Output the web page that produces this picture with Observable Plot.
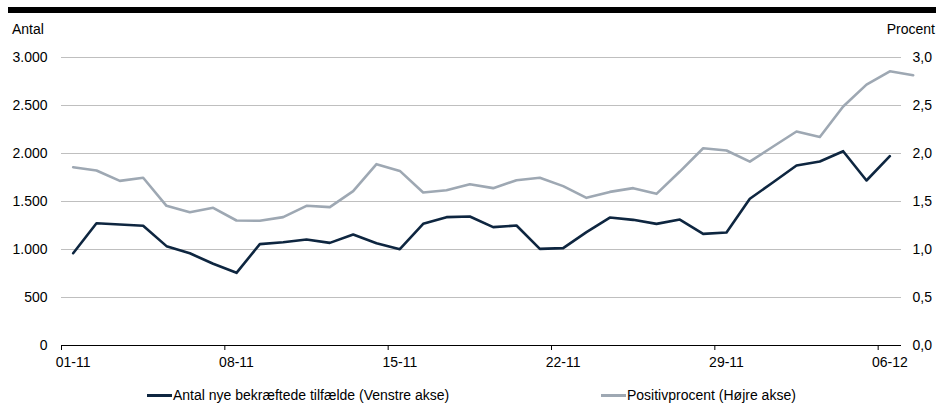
<!DOCTYPE html>
<html><head><meta charset="utf-8">
<script src="https://cdn.jsdelivr.net/npm/d3@7"></script>
<script src="https://cdn.jsdelivr.net/npm/@observablehq/plot@0.6"></script>
<style>
body{margin:0;background:#fff;font-family:"Liberation Sans",Arial,sans-serif;}
#wrap{position:relative;width:936px;height:403px;overflow:hidden;background:#fff}
#bar{position:absolute;left:8px;top:7px;width:928px;height:6px;background:#000}
#chart{position:absolute;left:0;top:20px}
.atitle{position:absolute;top:21px;font-size:14px;line-height:16px;color:#000}
.leg{position:absolute;top:387px;font-size:14px;line-height:16px;color:#000;display:flex;align-items:center;white-space:nowrap}
.leg span.sw{display:inline-block;width:25px;height:3px;margin-right:1px}
</style>
</head><body>
<div id="wrap">
  <div id="bar"></div>
  <div class="atitle" style="left:12px">Antal</div>
  <div class="atitle" style="right:1px">Procent</div>
  <div id="chart"></div>
  <div class="leg" style="left:147px"><span class="sw" style="background:#0e2640"></span>Antal nye bekræftede tilfælde (Venstre akse)</div>
  <div class="leg" style="left:601px"><span class="sw" style="background:#9ea8b3"></span>Positivprocent (Højre akse)</div>
</div>
<script>
// Categories (days)
const days = ["01-11","02-11","03-11","04-11","05-11","06-11","07-11","08-11","09-11","10-11",
  "11-11","12-11","13-11","14-11","15-11","16-11","17-11","18-11","19-11","20-11",
  "21-11","22-11","23-11","24-11","25-11","26-11","27-11","28-11","29-11","30-11",
  "01-12","02-12","03-12","04-12","05-12","06-12","07-12"];
const tickLabels = ["01-11","08-11","15-11","22-11","29-11","06-12"];
// Left axis: new confirmed cases
const cases = [961,1274,1260,1247,1035,961,851,757,1056,1076,
  1104,1069,1156,1066,1003,1267,1337,1344,1233,1250,
  1007,1014,1181,1333,1309,1267,1312,1163,1177,1528,
  1701,1875,1917,2024,1719,1972];
// Right axis: positive percent
const positive = [1.857,1.823,1.715,1.747,1.455,1.389,1.434,1.302,1.299,1.337,
  1.455,1.441,1.608,1.889,1.819,1.594,1.618,1.680,1.639,1.722,
  1.747,1.660,1.538,1.600,1.639,1.580,1.812,2.055,2.031,1.915,
  2.073,2.229,2.172,2.490,2.717,2.856,2.816];
const leftTicks = [0,500,1000,1500,2000,2500,3000];
const rightTicks = [0,0.5,1.0,1.5,2.0,2.5,3.0];

const locale = d3.formatLocale({decimal:",", thousands:".", grouping:[3], currency:["","kr"]});
const fmtL = locale.format(",.0f");
const fmtR = locale.format(".1f");
const ratio = leftTicks[leftTicks.length-1] / rightTicks[rightTicks.length-1];

const caseData = cases.map((v,i)=>({i, v}));
const posData = positive.map((v,i)=>({i, v: v*ratio}));
const labelIdx = tickLabels.map(t => days.indexOf(t));
const boundaries = labelIdx.map(i => i - 0.5);

const chart = Plot.plot({
  width: 936, height: 360,
  marginTop: 37, marginBottom: 35, marginLeft: 61, marginRight: 35,
  style: {fontFamily: '"Liberation Sans", Arial, sans-serif', fontSize: "14px", color: "#000", background: "transparent"},
  x: {domain: [-0.5, cases.length - 0.5]},
  y: {domain: [leftTicks[0], leftTicks[leftTicks.length-1]]},
  marks: [
    Plot.gridY(leftTicks.slice(1), {stroke: "#bfbfbf", strokeOpacity: 1, strokeWidth: 1.2}),
    Plot.axisY(leftTicks, {anchor: "left", tickSize: 0, tickPadding: 14, tickFormat: fmtL, label: null}),
    Plot.axisY(leftTicks, {anchor: "right", tickSize: 0, tickPadding: 11, tickFormat: d => fmtR(d/ratio), label: null}),
    Plot.axisX(labelIdx, {anchor: "bottom", tickSize: 0, tickPadding: 12, tickFormat: i => days[i], label: null}),
    Plot.axisX(boundaries, {anchor: "bottom", tickSize: 5, tickFormat: () => "", stroke: "#000", label: null}),
    Plot.ruleY([0], {stroke: "#000", strokeWidth: 1}),
    Plot.line(posData, {x: "i", y: "v", stroke: "#9ea8b3", strokeWidth: 2.6}),
    Plot.line(caseData, {x: "i", y: "v", stroke: "#0e2640", strokeWidth: 2.6})
  ]
});
document.getElementById("chart").appendChild(chart);
</script>
</body></html>
